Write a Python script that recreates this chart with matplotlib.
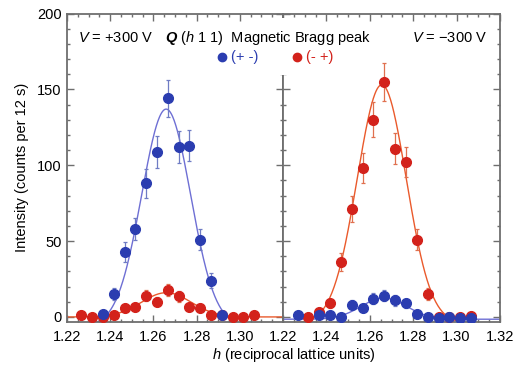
import numpy as np
import matplotlib.pyplot as plt
from matplotlib.patches import Rectangle
from matplotlib.ticker import MultipleLocator

plt.rcParams['font.family'] = ['Liberation Sans', 'DejaVu Sans']
plt.rcParams['font.size'] = 10.5
plt.rcParams['mathtext.fontset'] = 'custom'
plt.rcParams['mathtext.rm'] = 'Liberation Sans'
plt.rcParams['mathtext.it'] = 'Liberation Sans:italic'
plt.rcParams['mathtext.bf'] = 'Liberation Sans:bold'
plt.rcParams['mathtext.bfit'] = 'Liberation Sans:italic:bold'

# data, h in r.l.u., intensity in counts / 12 s
# V = +300 V panel
h_blue_pos = [1.2367, 1.2417, 1.2467, 1.2517, 1.2567, 1.2617, 1.2667, 1.2717, 1.2767, 1.2817, 1.2867, 1.2917]
I_blue_pos = [2, 15, 43, 58, 88, 109, 144, 112, 113, 51, 24, 1]
e_blue_pos = [1.5, 4, 6.5, 7.5, 9.5, 10.5, 12, 10.5, 10.5, 7, 5, 1.5]
h_red_pos = [1.2267, 1.2317, 1.2367, 1.2417, 1.2467, 1.2517, 1.2567, 1.2617, 1.2667,
             1.2717, 1.2767, 1.2817, 1.2867, 1.2917, 1.2967, 1.3017, 1.3067]
I_red_pos = [1, 0, 0, 1, 6, 6.5, 14, 10, 18, 13.5, 6.5, 6, 1, 1, 0, 0, 1]
e_red_pos = [1, 0.5, 0.5, 1, 2.5, 2.5, 3.5, 3, 4, 3.5, 2.5, 2.5, 1, 1, 0.5, 0.5, 1]

# V = -300 V panel
h_blue_neg = [1.2267, 1.2367, 1.2417, 1.2467, 1.2517, 1.2567, 1.2617, 1.2667, 1.2717,
              1.2767, 1.2817, 1.2867, 1.2917, 1.2967, 1.3017, 1.3067]
I_blue_neg = [1, 1, 1, 0, 8, 6, 12, 14, 11, 9, 2, 0, -1, 0, -1, -1]
e_blue_neg = [1, 1, 1, 1, 3, 2.5, 3.5, 3.5, 3.5, 3, 1.5, 1, 1, 1, 1, 1]
h_red_neg = [1.2317, 1.2367, 1.2417, 1.2467, 1.2517, 1.2567, 1.2617, 1.2667, 1.2717,
             1.2767, 1.2817, 1.2867, 1.2917, 1.2967, 1.3017, 1.3067]
I_red_neg = [0, 3, 9, 36, 71, 98, 130, 155, 111, 102, 51, 15, 0, 0, 0, 0.5]
e_red_neg = [1, 1.5, 3, 6, 8.5, 10, 11.5, 12.5, 10.5, 10, 7, 4, 1, 1, 1, 1.5]

# gaussian fits: baseline, amplitude, centre, sigma
fit_blue_pos = (-6, 143, 1.2659, 0.0113)
fit_red_pos = (0, 16, 1.2660, 0.0115)
fit_blue_neg = (-1.5, 14, 1.2665, 0.0105)
fit_red_neg = (-4, 157, 1.2655, 0.0113)

BLUE = '#2b3db0'
RED = '#d3221b'
BLUE_FIT = '#6e6fd4'
RED_FIT = '#ea5a2c'
BLUE_ERR = '#6f7cc4'
RED_ERR = '#e0704f'
GREY = '#6e6e6e'

W, H = 518, 365


def fx(px):
    return px / W


def fy(py):
    return 1 - py / H


def gauss(h, p):
    b, a, c, s = p
    return b + a * np.exp(-(h - c) ** 2 / (2 * s ** 2))


fig = plt.figure(figsize=(W / 100, H / 100), dpi=100)
ax1 = fig.add_axes([fx(67), fy(321.5), fx(283 - 67), (321.5 - 13.5) / H])
ax2 = fig.add_axes([fx(283), fy(321.5), fx(500 - 283), (321.5 - 13.5) / H])

hh = np.linspace(1.22, 1.32, 400)
panels = [
    (ax1, h_blue_pos, I_blue_pos, e_blue_pos, fit_blue_pos, h_red_pos, I_red_pos, e_red_pos, fit_red_pos),
    (ax2, h_blue_neg, I_blue_neg, e_blue_neg, fit_blue_neg, h_red_neg, I_red_neg, e_red_neg, fit_red_neg),
]
for ax, hb, ib, eb, fb, hr, ir, er, fr in panels:
    ax.plot(hh, gauss(hh, fr), color=RED_FIT, lw=1.0, zorder=2)
    ax.plot(hh, gauss(hh, fb), color=BLUE_FIT, lw=1.0, zorder=2)
    ax.errorbar(hr, ir, yerr=er, fmt='o', color=RED, ms=7, mec=RED,
                ecolor=RED_ERR, elinewidth=0.9, capsize=1.5, capthick=0.9, zorder=3)
    ax.errorbar(hb, ib, yerr=eb, fmt='o', color=BLUE, ms=7, mec=BLUE,
                ecolor=BLUE_ERR, elinewidth=0.9, capsize=1.5, capthick=0.9, zorder=4)
    ax.set_xlim(1.22, 1.32)
    ax.set_ylim(-3, 200)
    ax.xaxis.set_major_locator(MultipleLocator(0.02))
    ax.xaxis.set_minor_locator(MultipleLocator(0.005))
    ax.yaxis.set_major_locator(MultipleLocator(50))
    ax.yaxis.set_minor_locator(MultipleLocator(10))
    ax.tick_params(which='both', direction='in', top=True, bottom=True, left=True, right=True,
                   color=GREY, width=1.0)
    ax.tick_params(which='major', length=5, labelsize=10.5)
    ax.tick_params(axis='x', which='major', pad=6)
    ax.tick_params(axis='y', which='major', pad=4)
    ax.tick_params(which='minor', length=2.5)
    for sp in ax.spines.values():
        sp.set_color(GREY)
        sp.set_linewidth(1.3)

ax1.set_xticks([1.22, 1.24, 1.26, 1.28, 1.30, 1.32])
ax1.set_xticklabels(['1.22', '1.24', '1.26', '1.28', '1.30', ''])
ax2.set_xticks([1.22, 1.24, 1.26, 1.28, 1.30, 1.32])
ax2.set_xticklabels(['1.22', '1.24', '1.26', '1.28', '1.30', '1.32'])
ax2.set_yticklabels([])
ax1.set_yticks([0, 50, 100, 150, 200])
ax1.set_yticklabels(['0', '50', '100', '150', '200'])

# white patch hiding the top of the divider behind the title
fig.add_artist(Rectangle((fx(268), fy(75)), fx(30), 57 / H, transform=fig.transFigure,
                         facecolor='white', edgecolor='none', zorder=5))

fig.text(fx(78), fy(38), r'$V$ = +300 V', ha='left', va='center', fontsize=10.5, zorder=6)
fig.text(fx(487), fy(38), r'$V$ = $-$300 V', ha='right', va='center', fontsize=10.5, zorder=6)
fig.text(fx(165), fy(38), r'$\mathbfit{Q}$ ($h$ 1 1)  Magnetic Bragg peak', ha='left', va='center',
         fontsize=10.5, zorder=6)

# legend made of a marker and coloured text
for mx, lab, col in [(222, '(+ -)', BLUE), (297, '(- +)', RED)]:
    fig.add_artist(plt.Line2D([fx(mx)], [fy(56.5)], marker='o', ms=6, color=col,
                              transform=fig.transFigure, zorder=6))
    fig.text(fx(mx + 9), fy(56.5), lab, color=col, ha='left', va='center', fontsize=10.5, zorder=6)

fig.text(fx(22), fy(167.5), 'Intensity (counts per 12 s)', rotation=90, ha='center', va='center',
         fontsize=10.5)
fig.text(fx(293.5), fy(355), r'$h$ (reciprocal lattice units)', ha='center', va='center', fontsize=10.5)

fig.savefig('out.png', dpi=100)
